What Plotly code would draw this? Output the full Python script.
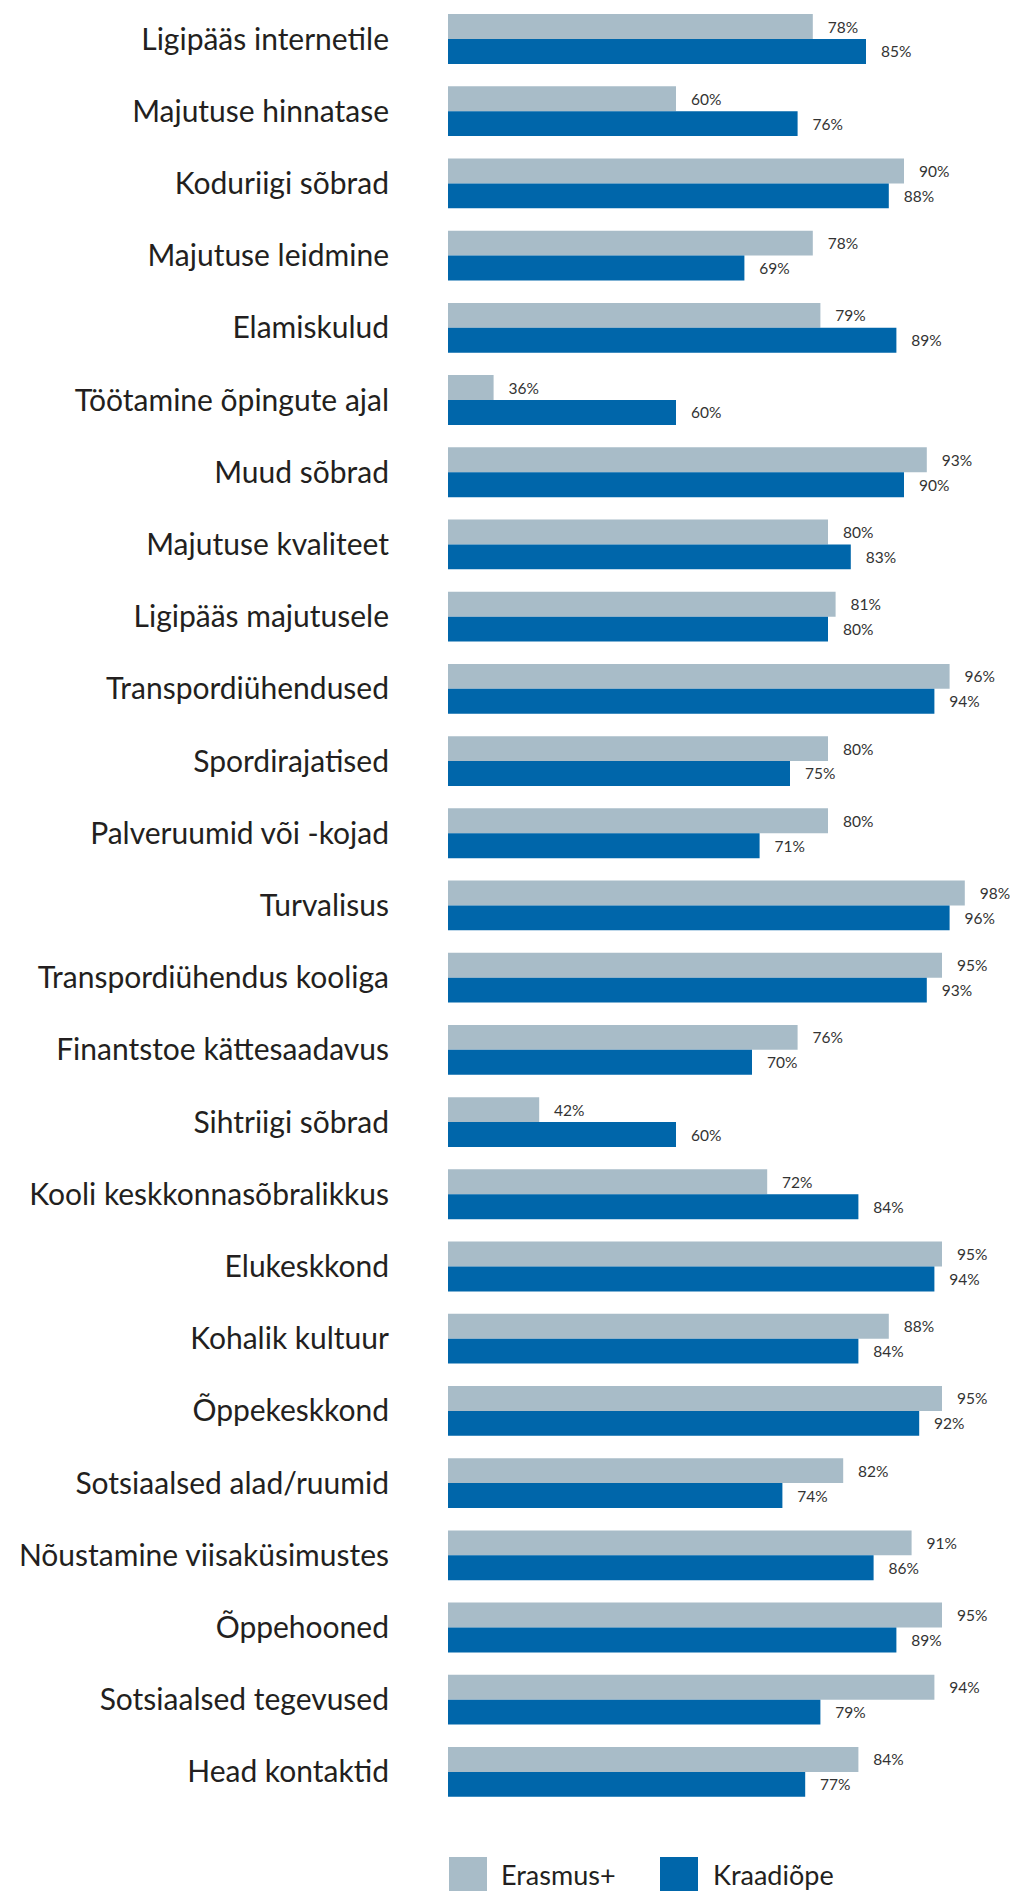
import plotly.graph_objects as go

categories = [
    "Ligipääs internetile", "Majutuse hinnatase", "Koduriigi sõbrad", "Majutuse leidmine",
    "Elamiskulud", "Töötamine õpingute ajal", "Muud sõbrad", "Majutuse kvaliteet",
    "Ligipääs majutusele", "Transpordiühendused", "Spordirajatised", "Palveruumid või -kojad",
    "Turvalisus", "Transpordiühendus kooliga", "Finantstoe kättesaadavus", "Sihtriigi sõbrad",
    "Kooli keskkonnasõbralikkus", "Elukeskkond", "Kohalik kultuur", "Õppekeskkond",
    "Sotsiaalsed alad/ruumid", "Nõustamine viisaküsimustes", "Õppehooned",
    "Sotsiaalsed tegevused", "Head kontaktid",
]
erasmus = [78, 60, 90, 78, 79, 36, 93, 80, 81, 96, 80, 80, 98, 95, 76, 42, 72, 95, 88, 95, 82, 91, 95, 94, 84]
kraadiope = [85, 76, 88, 69, 89, 60, 90, 83, 80, 94, 75, 71, 96, 93, 70, 60, 84, 94, 84, 92, 74, 86, 89, 79, 77]
series_names = ["Erasmus+", "Kraadiõpe"]
colors = ["#A8BCC8", "#0066AA"]

OFF = 8  # page body margin
W, H = 1018 - OFF, 1891 - OFF
ML, MR, MT, MB = 440, 0, 0, 83
FONT = "Lato"
pad = "\u00a0" * 3

fig = go.Figure()
for name, vals, col in zip(series_names, [erasmus, kraadiope], colors):
    fig.add_trace(go.Bar(
        y=categories, x=vals, orientation="h", name=name,
        marker=dict(color=col, line=dict(width=0)),
        text=[f"{pad}{v}%" for v in vals], textposition="outside",
        textfont=dict(family=FONT, size=15.5, color="#333333"),
        cliponaxis=False, showlegend=False,
    ))

fig.update_layout(
    width=W, height=H, barmode="group", bargap=0.31, bargroupgap=0,
    margin=dict(l=ML, r=MR, t=MT, b=MB, autoexpand=False),
    plot_bgcolor="white", paper_bgcolor="white",
    font=dict(family=FONT, color="#231F20"),
    xaxis=dict(range=[30, 30 + (W - ML - MR) / 7.6], visible=False, automargin=False),
    yaxis=dict(range=[len(categories) - 0.5, -0.4294], showgrid=False, showline=False,
               zeroline=False, automargin=False,
               ticks="", tickfont=dict(family=FONT, size=30, color="#231F20"),
               ticklabelstandoff=58, categoryorder="array", categoryarray=categories),
)

# custom legend (positions given in page pixels)
pw = W - ML - MR
ph = H - MT - MB
def px2paper_x(px):
    return (px - OFF - ML) / pw
def px2paper_y(py):
    return (H - MB - (py - OFF)) / ph

leg_items = [(449, 499), (660, 711)]
for (sx, tx), name, col in zip(leg_items, series_names, colors):
    fig.add_shape(type="rect", xref="paper", yref="paper",
                  x0=px2paper_x(sx), x1=px2paper_x(sx + 38),
                  y0=px2paper_y(1857), y1=px2paper_y(1895),
                  fillcolor=col, line=dict(width=0))
    fig.add_annotation(xref="paper", yref="paper", x=px2paper_x(tx), y=px2paper_y(1874),
                       text=name, showarrow=False, xanchor="left", yanchor="middle",
                       font=dict(family=FONT, size=27, color="#231F20"))

fig.write_html("out.html")
